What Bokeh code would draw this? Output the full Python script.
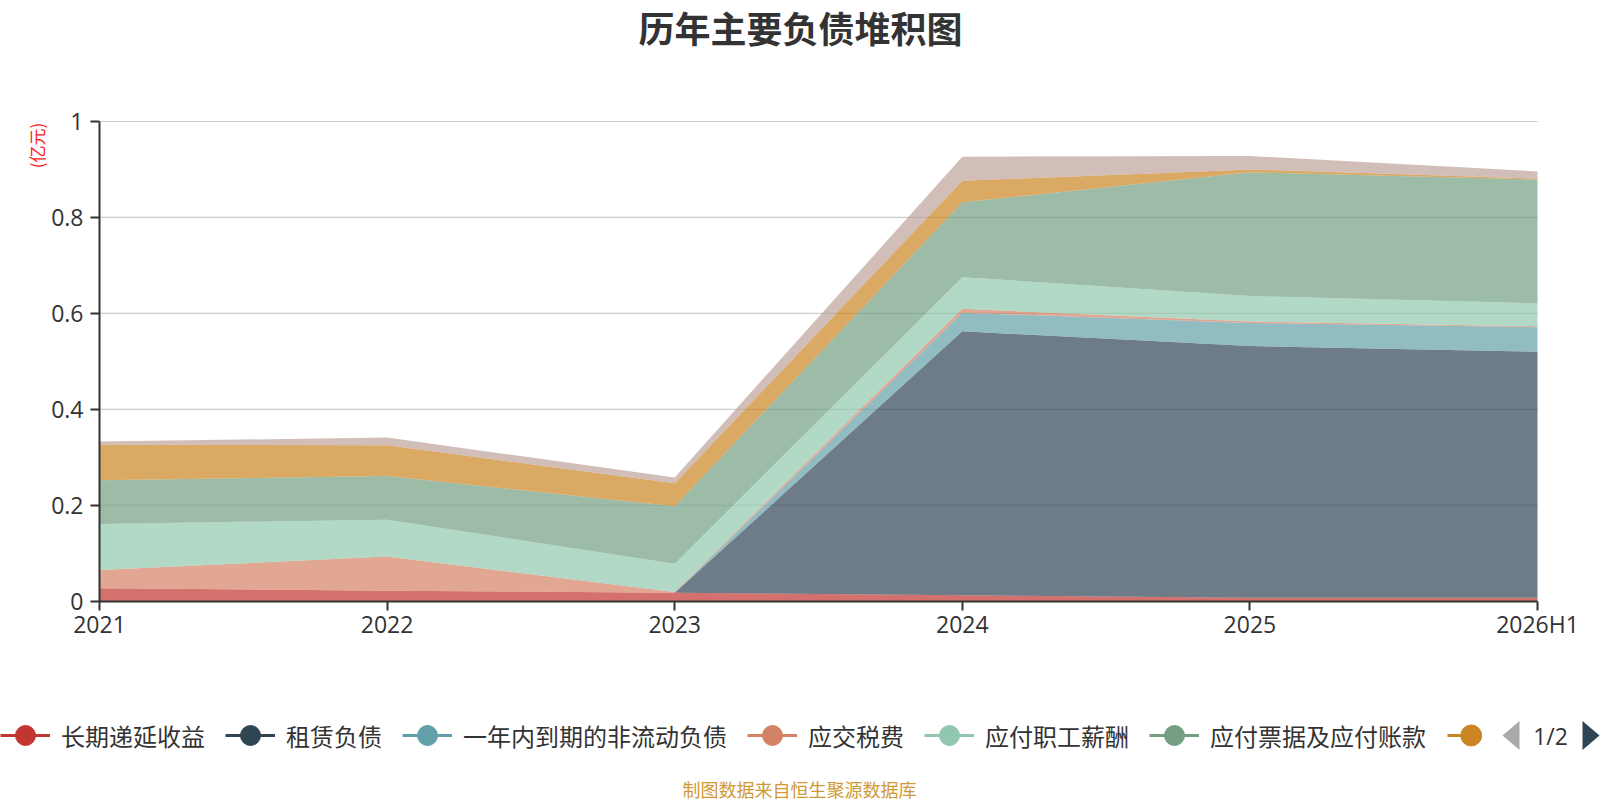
import math
from bokeh.plotting import figure
from bokeh.models import (ColumnDataSource, Range1d, FixedTicker, Label, LinearAxis,
                          Legend, LegendItem, PolyAnnotation)
from bokeh.embed import file_html
from bokeh.resources import INLINE

# ---------------- data ----------------
categories = ["2021", "2022", "2023", "2024", "2025", "2026H1"]

series_names = ["长期递延收益", "租赁负债", "一年内到期的非流动负债", "应交税费",
                "应付职工薪酬", "应付票据及应付账款", "合同负债", "其他应付款合计"]

deferred_income = [0.027, 0.022, 0.0175, 0.0125, 0.007, 0.007]
lease_liab = [0.0, 0.0, 0.0, 0.550, 0.525, 0.513]
current_noncurrent = [0.0, 0.0, 0.0, 0.039, 0.048, 0.051]
taxes_payable = [0.038, 0.071, 0.0015, 0.008, 0.003, 0.002]
payroll_payable = [0.096, 0.077, 0.059, 0.066, 0.053, 0.048]
notes_accounts_payable = [0.091, 0.091, 0.120, 0.156, 0.258, 0.258]
contract_liab = [0.074, 0.064, 0.048, 0.045, 0.006, 0.002]
other_payables = [0.007, 0.016, 0.012, 0.050, 0.028, 0.015]

y_ticks = [0, 0.2, 0.4, 0.6, 0.8, 1]
y_tick_labels = ["0", "0.2", "0.4", "0.6", "0.8", "1"]

colors = ["#c23531", "#2f4554", "#61a0a8", "#d48265",
          "#91c7ae", "#749f83", "#ca8622", "#bda29a"]

# ---------------- layout ----------------
W, H = 1600, 800
PX0, PX1 = 99.0, 1537.0      # pixel x of first / last category
PY0, PY1 = 600.7, 121.0      # pixel y of value 0 / value 1
n = len(categories)
sx = (PX1 - PX0) / (n - 1)
sy = PY0 - PY1

def dx(px):
    return (px - PX0) / sx

def dy(py):
    return (PY0 - py) / sy

keys = ["s%d" % i for i in range(len(series_names))]
data = dict(x=list(range(n)))
for k, arr in zip(keys, [deferred_income, lease_liab, current_noncurrent, taxes_payable,
                          payroll_payable, notes_accounts_payable, contract_liab, other_payables]):
    data[k] = arr
src = ColumnDataSource(data)

p = figure(width=W, height=H, output_backend="svg", toolbar_location=None,
           x_range=Range1d(dx(0), dx(W)), y_range=Range1d(dy(H), dy(0)),
           x_axis_location=None, y_axis_location=None, min_border=0)
p.outline_line_color = None
p.background_fill_color = "white"
p.border_fill_color = "white"
p.grid.visible = False

# grid lines (under the areas)
p.segment(x0=[0] * (len(y_ticks) - 1), x1=[n - 1] * (len(y_ticks) - 1),
          y0=y_ticks[1:], y1=y_ticks[1:], line_color="#cccccc", line_width=1.2)

p.varea_stack(stackers=keys, x="x", color=colors, fill_alpha=0.7, source=src)

# axes at fixed locations
tick_font = "Open Sans"
xaxis = LinearAxis(fixed_location=0, bounds=(0, n - 1),
                   ticker=FixedTicker(ticks=list(range(n))),
                   major_label_overrides={i: c for i, c in enumerate(categories)})
yaxis = LinearAxis(fixed_location=0, bounds=(0, 1),
                   ticker=FixedTicker(ticks=y_ticks),
                   major_label_overrides={t: l for t, l in zip(y_ticks, y_tick_labels)})
for ax in (xaxis, yaxis):
    ax.axis_line_color = "#333333"
    ax.axis_line_width = 2
    ax.major_tick_line_color = "#333333"
    ax.major_tick_line_width = 2
    ax.major_tick_in = 0
    ax.major_tick_out = 9
    ax.minor_tick_line_color = None
    ax.major_label_text_font = tick_font
    ax.major_label_text_font_size = "23px"
    ax.major_label_text_color = "#333333"
xaxis.major_label_standoff = -2
yaxis.major_label_standoff = 7
p.add_layout(xaxis, "below")
p.add_layout(yaxis, "left")

# title / labels
cjk = "Noto Sans CJK SC"
p.add_layout(Label(x=dx(800), y=dy(26), text="历年主要负债堆积图", text_font=cjk,
                   text_font_size="36px", text_font_style="bold", text_color="#333333",
                   text_align="center", text_baseline="middle"))
p.add_layout(Label(x=dx(36), y=dy(145), text="(亿元)", text_font=cjk,
                   text_font_size="17px", text_color="#ff2020", angle=math.pi / 2,
                   text_align="center", text_baseline="middle"))
p.add_layout(Label(x=dx(799), y=dy(788), text="制图数据来自恒生聚源数据库", text_font=cjk,
                   text_font_size="18px", text_color="#cf9a35",
                   text_align="center", text_baseline="middle"))

# legend (page 1 of 2)
items = []
nan = float("nan")
for i, name in enumerate(series_names[:6]):
    lr = p.line(x=[nan], y=[nan], line_color=colors[i], line_width=3)
    sr = p.scatter(x=[nan], y=[nan], marker="circle", size=20,
                   fill_color=colors[i], line_color=colors[i])
    items.append(LegendItem(label=name, renderers=[lr, sr]))
legend = Legend(items=items, orientation="horizontal", location=(0, H - 763),
                glyph_width=50, glyph_height=56, label_standoff=11, spacing=20,
                padding=0, margin=0, border_line_color=None,
                background_fill_alpha=0, label_text_font=cjk,
                label_text_font_size="24px", label_text_color="#333333")
p.add_layout(legend, "center")

# 7th legend icon, cut off by the legend page edge
p.segment(x0=[dx(1447)], x1=[dx(1471)], y0=[dy(735)], y1=[dy(735)],
          line_color=colors[6], line_width=3)
p.scatter(x=[dx(1470.7)], y=[dy(735)], marker="circle", size=21,
          fill_color=colors[6], line_color=colors[6])
p.quad(left=[dx(1481.5)], right=[dx(1499)], bottom=[dy(760)], top=[dy(710)],
       fill_color="white", line_color=None)

# pager
p.add_layout(Label(x=dx(1550), y=dy(735), text="1/2", text_font=tick_font,
                   text_font_size="23px", text_color="#333333",
                   text_align="center", text_baseline="middle"))
p.add_layout(PolyAnnotation(xs=[dx(1502), dx(1519), dx(1519)], ys=[dy(735), dy(720.5), dy(749.5)],
                            fill_color="#aaaaaa", fill_alpha=1, line_color=None))
p.add_layout(PolyAnnotation(xs=[dx(1599), dx(1582), dx(1582)], ys=[dy(735), dy(720.5), dy(749.5)],
                            fill_color="#2f4554", fill_alpha=1, line_color=None))

open("out.html", "w").write(file_html(p, INLINE))
